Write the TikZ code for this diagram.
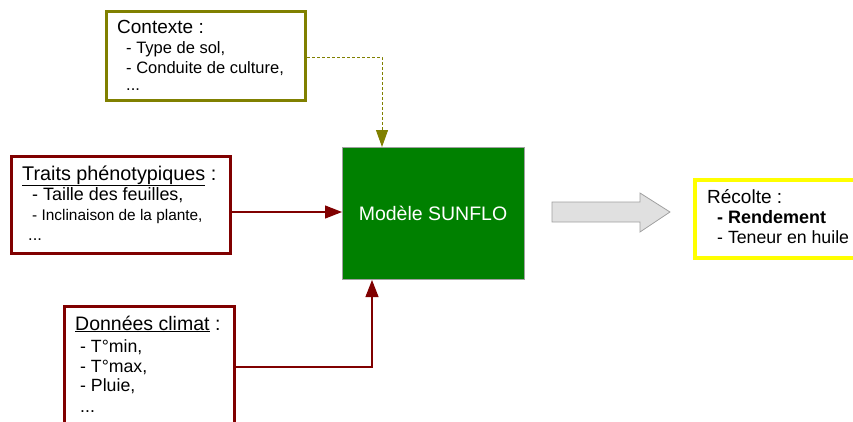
\documentclass[tikz,border=0pt]{standalone}
\usepackage{fontspec}
\setmainfont{Liberation Sans}
\usetikzlibrary{arrows.meta}
\definecolor{olivec}{HTML}{808000}
\definecolor{redc}{HTML}{800000}
\definecolor{greenc}{HTML}{008000}
\definecolor{yellowc}{HTML}{FFFF00}
\definecolor{greyc}{HTML}{A0A0A0}
\definecolor{lgrey}{HTML}{E0E0E0}
\tikzset{
  box/.style={draw, line width=3pt, fill=white, inner sep=0pt, anchor=north west},
  txt/.style={anchor=base west, inner sep=0pt, text=black},
  hd/.style={txt, font=\fontsize{19}{21}\selectfont},
  it/.style={txt, font=\fontsize{16.5}{20}\selectfont},
  itb/.style={txt, font=\fontsize{17.7}{20}\selectfont},
  redarrow/.style={draw=redc, line width=1.1pt, -{Triangle[length=17pt,width=13pt]}},
  olivearrow/.style={draw=olivec, line width=1pt, dash pattern=on 3pt off 2pt, -{Triangle[length=17pt,width=12pt]}},
}
\begin{document}
\begin{tikzpicture}[x=1pt,y=-1pt]
\useasboundingbox (0,0) rectangle (853,421);
% Contexte
\node[box, draw=olivec, minimum width=199pt, minimum height=89pt] (ctx) at (105,10) {};
\node[hd] (ctx0) at (117,33) {Contexte :};
\node[it] (ctx1) at (126,53) {- Type de sol,};
\node[it] (ctx2) at (126,73) {- Conduite de culture,};
\node[it] (ctx3) at (126,90) {...};
% Traits
\node[box, draw=redc, minimum width=219pt, minimum height=97pt] (tr) at (10,155) {};
\node[hd, font=\fontsize{19.8}{21}\selectfont] (tr0) at (22,180) {\underline{Traits phénotypiques} :};
\node[txt, font=\fontsize{17.9}{20}\selectfont] (tr1) at (32,200) {- Taille des feuilles,};
\node[txt, font=\fontsize{15.4}{18}\selectfont] (tr2) at (32,220) {- Inclinaison de la plante,};
\node[it] (tr3) at (28,240) {...};
% Donnees climat
\node[box, draw=redc, minimum width=170pt, minimum height=125pt] (cl) at (63,305) {};
\node[hd, font=\fontsize{19.5}{21}\selectfont] (cl0) at (75,330) {\underline{Données climat} :};
\node[itb] (cl1) at (80,352) {- T°min,};
\node[itb] (cl2) at (80,372) {- T°max,};
\node[itb] (cl3) at (80,391) {- Pluie,};
\node[itb] (cl4) at (80,412) {...};
% Model
\node[draw=greyc, line width=1pt, fill=greenc, anchor=north west, minimum width=182pt, minimum height=132pt, inner sep=0pt] (m) at (342,147) {};
\node[text=white, font=\fontsize{19.5}{22}\selectfont, inner sep=0pt] (mt) at (433,213) {Modèle SUNFLO};
% Recolte
\node[box, draw=yellowc, line width=4pt, minimum width=180pt, minimum height=78pt] (rc) at (693,178) {};
\node[hd] (rc0) at (707,203) {Récolte :};
\node[txt, font=\fontsize{18}{20}\selectfont\bfseries] (rc1) at (717,223) {- Rendement};
\node[itb] (rc2) at (717,243) {- Teneur en huile};
% Block arrow
\draw[draw=greyc, fill=lgrey, line width=0.8pt] (552,202) -- (640,202) -- (640,193) -- (670,212) -- (640,232) -- (640,222) -- (552,222) -- cycle;
% connectors
\coordinate (cy) at (0,57);
\coordinate (cx) at (382,0);
\draw[olivearrow] (ctx.east |- cy) -- (cx |- cy) -- (cx |- m.north);
\coordinate (ty) at (0,212);
\draw[redarrow] (tr.east |- ty) -- (m.west |- ty);
\coordinate (by) at (0,367);
\coordinate (bx) at (372,0);
\draw[redarrow] (cl.east |- by) -- (bx |- by) -- (bx |- m.south);
\end{tikzpicture}
\end{document}
